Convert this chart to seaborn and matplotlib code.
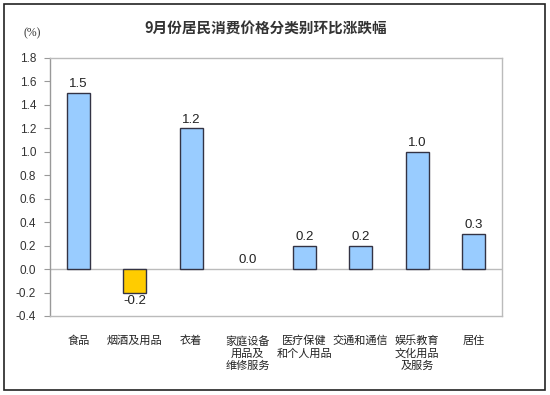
import matplotlib
matplotlib.use("Agg")
import matplotlib.pyplot as plt
import seaborn as sns
import pandas as pd
import numpy as np
from matplotlib.patches import Rectangle

sns.set_theme(style="white")
plt.rcParams['font.family'] = ['Noto Sans CJK SC', 'DejaVu Sans']

categories = ['食品', '烟酒及用品', '衣着', '家庭设备\n用品及\n维修服务', '医疗保健\n和个人用品',
              '交通和通信', '娱乐教育\n文化用品\n及服务', '居住']
values = [1.5, -0.2, 1.2, 0.0, 0.2, 0.2, 1.0, 0.3]
yticks = [-0.4, -0.2, 0.0, 0.2, 0.4, 0.6, 0.8, 1.0, 1.2, 1.4, 1.6, 1.8]

df = pd.DataFrame({'cat': categories, 'val': values})
colors = ['#FFCC00' if v < 0 else '#99CCFF' for v in values]

fig = plt.figure(figsize=(5.5, 3.95), dpi=100)
# outer frame
fig.patches.append(Rectangle((4 / 550, 5 / 395), 541 / 550, 386 / 395, transform=fig.transFigure,
                             fill=False, edgecolor='#222222', linewidth=1.2))

ax = fig.add_axes([50 / 550, 1 - 316 / 395, 452 / 550, 258 / 395])
sns.barplot(data=df, x='cat', y='val', hue='cat', palette=colors, legend=False, saturation=1,
            width=0.4, edgecolor='#333344', linewidth=1.0, ax=ax)
# zero-height bars are not drawn in the original
for p in ax.patches:
    if p.get_height() == 0:
        p.set_linewidth(0)

ax.set_ylim(-0.4, 1.8)
ax.set_xlim(-0.5, len(categories) - 0.5)
ax.set_yticks(yticks)
ax.set_yticklabels([f"{t:.1f}" for t in yticks], family='Liberation Sans', fontsize=8.5, color='#333333')
ax.tick_params(axis='y', length=4, width=0.8, color='#999999', direction='out', pad=6, left=True)
ax.tick_params(axis='x', length=0, pad=14)
ax.set_xticks(range(len(categories)))
ax.set_xticklabels(categories, fontsize=8, linespacing=1.25, color='#222222', va='top')
ax.set_xlabel('')
ax.set_ylabel('')
for s in ax.spines.values():
    s.set_color('#BBBBBB')
    s.set_linewidth(1.0)
ax.spines['left'].set_color('#999999')
ax.axhline(0, color='#BBBBBB', linewidth=1.0, zorder=0)

for i, v in enumerate(values):
    if v < 0:
        ax.annotate(f"{v:.1f}", (i, v), xytext=(0, -2), textcoords='offset points',
                    ha='center', va='top', fontsize=9.5, family='Liberation Sans', color='#222222')
    else:
        ax.annotate(f"{v:.1f}", (i, v), xytext=(0, 2), textcoords='offset points',
                    ha='center', va='bottom', fontsize=9.5, family='Liberation Sans', color='#222222')

fig.text(266 / 550, 1 - 29 / 395, '9月份居民消费价格分类别环比涨跌幅', ha='center', va='center',
         fontsize=10.5, fontweight='bold', color='#333333')
fig.text(32 / 550, 1 - 33 / 395, '(%)', ha='center', va='center', fontsize=8.5,
         family='Liberation Serif', color='#333333')

fig.savefig('out.png', dpi=100)
